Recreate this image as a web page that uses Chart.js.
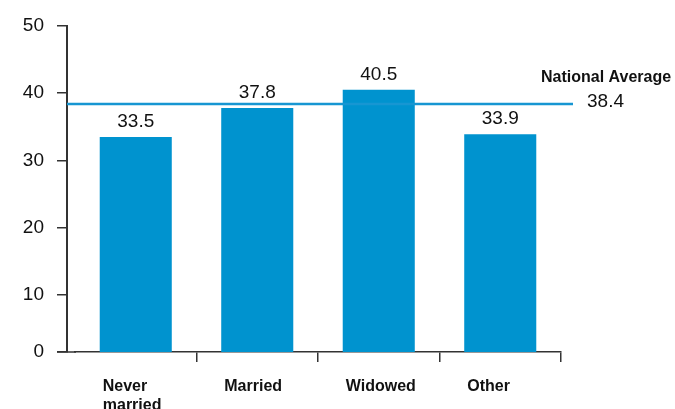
<!DOCTYPE html>
<html>
<head>
<meta charset="utf-8">
<script src="https://cdn.jsdelivr.net/npm/chart.js@4"></script>
<style>
  html, body { margin: 0; padding: 0; background: #fff; }
  #wrap { width: 675px; height: 409px; position: relative; }
</style>
</head>
<body>
<div id="wrap"><canvas id="c" width="675" height="409"></canvas></div>
<script>
const categories = [['Never', 'married'], 'Married', 'Widowed', 'Other'];
const medianAge = [33.5, 37.8, 40.5, 33.9];
const yTicks = [10, 20, 30, 40, 50];
const yAxisMin = 1.5;   // the reference draws its baseline slightly above the true zero
const yAxisMax = 50;
const nationalAverage = 38.4;
const nationalAverageLabel = 'National Average';

const FONT = '"Liberation Sans", Arial, Helvetica, sans-serif';
const BAR_COLOR = '#0093cf';
const AXIS_COLOR = '#333';

const overlay = {
  id: 'overlay',
  afterDatasetsDraw(chart) {
    const ctx = chart.ctx;
    const area = chart.chartArea;
    const y = chart.scales.y;
    ctx.save();
    // extend the x-axis baseline back to the y-axis
    ctx.strokeStyle = AXIS_COLOR;
    ctx.lineWidth = 1.5;
    ctx.beginPath();
    ctx.moveTo(y.right - 10, area.bottom);
    ctx.lineTo(area.left + 1, area.bottom);
    ctx.stroke();
    // value labels
    ctx.fillStyle = '#111';
    ctx.font = '19px ' + FONT;
    ctx.textAlign = 'center';
    ctx.textBaseline = 'middle';
    chart.getDatasetMeta(0).data.forEach((bar, i) => {
      ctx.fillText(medianAge[i].toFixed(1), bar.x, bar.y - 15);
    });
    // national average
    const ya = y.getPixelForValue(nationalAverage);
    ctx.strokeStyle = '#1796d2';
    ctx.lineWidth = 2.5;
    ctx.beginPath();
    ctx.moveTo(y.right, ya);
    ctx.lineTo(area.right + 12, ya);
    ctx.stroke();
    ctx.textAlign = 'left';
    ctx.fillStyle = '#111';
    ctx.font = 'bold 16px ' + FONT;
    ctx.fillText(nationalAverageLabel, area.right - 20, ya - 26);
    ctx.font = '19px ' + FONT;
    ctx.fillText(nationalAverage.toFixed(1), area.right + 26, ya - 2);
    ctx.restore();
  }
};

new Chart(document.getElementById('c'), {
  type: 'bar',
  data: {
    labels: categories,
    datasets: [{
      data: medianAge,
      backgroundColor: BAR_COLOR,
      borderWidth: 0,
      barPercentage: 0.593,
      categoryPercentage: 1.0
    }]
  },
  options: {
    responsive: false,
    animation: false,
    events: [],
    layout: { padding: { top: 26, right: 114, left: 0, bottom: 0 } },
    plugins: { legend: { display: false }, tooltip: { enabled: false }, title: { display: false } },
    scales: {
      x: {
        offset: true,
        grid: {
          display: true, offset: true, drawOnChartArea: false, drawTicks: true, tickLength: 10, lineWidth: 1.5,
          color: (c) => (c.index === 0 ? 'rgba(0,0,0,0)' : AXIS_COLOR)
        },
        border: { display: true, color: AXIS_COLOR, width: 1.5 },
        ticks: { color: '#111', align: 'start', labelOffset: -33, font: { family: FONT, size: 16, weight: 'bold', lineHeight: 1.19 }, padding: 15, maxRotation: 0, autoSkip: false },
        afterFit(scale) { scale.height = 57; }
      },
      y: {
        position: 'left',
        weight: 1,
        min: yAxisMin,
        max: yAxisMax,
        afterBuildTicks(scale) { scale.ticks = [{ value: yAxisMin }].concat(yTicks.map(v => ({ value: v }))); },
        grid: { display: true, drawOnChartArea: false, drawTicks: true, tickLength: 10, color: AXIS_COLOR, lineWidth: 1.5 },
        border: { display: true, color: AXIS_COLOR, width: 2 },
        ticks: {
          color: '#111', font: { family: FONT, size: 19 }, padding: 13,
          callback: (v) => (v === yAxisMin ? '0' : String(v))
        },
        afterFit(scale) { scale.width = 67; }
      },
      gap: {
        type: 'linear',
        position: 'left',
        weight: 0,
        display: true,
        grid: { display: false },
        border: { display: false },
        ticks: { display: false },
        afterFit(scale) { scale.width = 8; }
      }
    }
  },
  plugins: [overlay]
});
</script>
</body>
</html>
